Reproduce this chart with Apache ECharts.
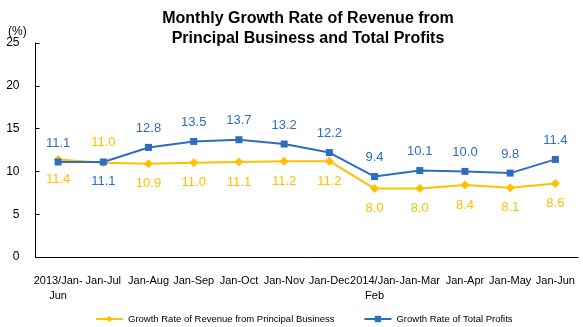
<!DOCTYPE html>
<html>
<head>
<meta charset="utf-8">
<script src="https://cdn.jsdelivr.net/npm/echarts@6/dist/echarts.min.js"></script>
<style>
  html, body { margin: 0; padding: 0; background: #fff; }
  #chart { width: 583px; height: 327px; }
</style>
</head>
<body>
<div id="chart"></div>
<script>
// Period labels for the x axis
var categories = ['2013/Jan-\nJun', 'Jan-Jul', 'Jan-Aug', 'Jan-Sep', 'Jan-Oct', 'Jan-Nov',
                  'Jan-Dec', '2014/Jan-\nFeb', 'Jan-Mar', 'Jan-Apr', 'Jan-May', 'Jan-Jun'];
// Growth rate of revenue from principal business (%)
var revenueGrowth = [11.4, 11.0, 10.9, 11.0, 11.1, 11.2, 11.2, 8.0, 8.0, 8.4, 8.1, 8.6];
// Growth rate of total profits (%)
var profitGrowth = [11.1, 11.1, 12.8, 13.5, 13.7, 13.2, 12.2, 9.4, 10.1, 10.0, 9.8, 11.4];
// Y axis ticks
var yMin = 0, yMax = 25, yStep = 5;

var YELLOW = '#FFC000';
var BLUE = '#2E6DBF';
var FONT = '"Liberation Sans", Arial, sans-serif';

// Label sides: profits above / revenue below, except where the lines cross (Jan-Jul)
var revenueLabelPos = revenueGrowth.map(function (v, i) { return i === 1 ? 'top' : 'bottom'; });
var profitLabelPos = profitGrowth.map(function (v, i) { return i === 1 ? 'bottom' : 'top'; });

var chart = echarts.init(document.getElementById('chart'));
chart.setOption({
  animation: false,
  title: {
    text: 'Monthly Growth Rate of Revenue from\nPrincipal Business and Total Profits',
    left: 303,
    top: 4,
    textAlign: 'center',
    textStyle: { fontFamily: FONT, fontSize: 16, fontWeight: 'bold', color: '#000', lineHeight: 20 }
  },
  graphic: [{
    type: 'text', left: 8, top: 26,
    style: { text: '(%)', font: '12px ' + FONT, fill: '#000' }
  }],
  legend: {
    left: 90,
    top: 309,
    itemGap: 29,
    itemWidth: 27,
    itemHeight: 8,
    textStyle: { fontFamily: FONT, fontSize: 9.5, color: '#000' },
    data: ['Growth Rate of Revenue from Principal Business', 'Growth Rate of Total Profits']
  },
  grid: { left: 35.5, right: 5, top: 43, bottom: 70, containLabel: false },
  xAxis: {
    type: 'category',
    data: categories,
    boundaryGap: true,
    axisLine: { lineStyle: { color: '#000', width: 1 } },
    axisTick: { inside: true, length: 4, lineStyle: { color: '#000' } },
    axisLabel: { interval: 0, margin: 16, fontFamily: FONT, fontSize: 11, color: '#000', lineHeight: 15 },
    splitLine: { show: false }
  },
  yAxis: {
    type: 'value',
    min: yMin, max: yMax, interval: yStep,
    axisLine: { show: true, lineStyle: { color: '#000', width: 1 } },
    axisTick: { show: true, inside: true, length: 4, lineStyle: { color: '#000' } },
    axisLabel: { margin: 16, fontFamily: FONT, fontSize: 12, color: '#000' },
    splitLine: { show: false }
  },
  series: [
    {
      name: 'Growth Rate of Revenue from Principal Business',
      type: 'line',
      data: revenueGrowth.map(function (v, i) {
        return { value: v, label: { position: revenueLabelPos[i] } };
      }),
      symbol: 'diamond',
      symbolSize: 9,
      itemStyle: { color: YELLOW },
      lineStyle: { color: YELLOW, width: 2 },
      label: {
        show: true, distance: 9, fontFamily: FONT, fontSize: 13, color: YELLOW,
        formatter: function (p) { return p.value.toFixed(1); }
      },
      z: 2
    },
    {
      name: 'Growth Rate of Total Profits',
      type: 'line',
      data: profitGrowth.map(function (v, i) {
        return { value: v, label: { position: profitLabelPos[i] } };
      }),
      symbol: 'rect',
      symbolSize: 7,
      itemStyle: { color: BLUE },
      lineStyle: { color: BLUE, width: 2 },
      label: {
        show: true, distance: 9, fontFamily: FONT, fontSize: 13, color: BLUE,
        formatter: function (p) { return p.value.toFixed(1); }
      },
      z: 3
    }
  ]
});
</script>
</body>
</html>
